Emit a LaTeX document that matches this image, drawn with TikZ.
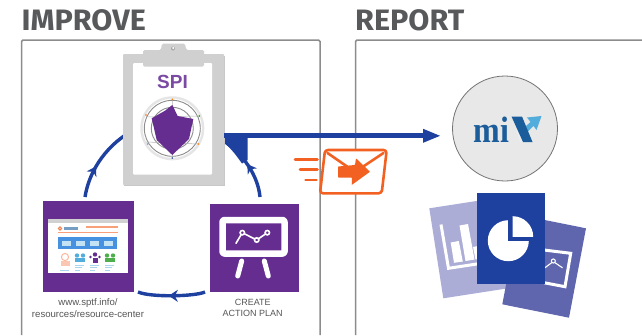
\documentclass[tikz,border=0pt]{standalone}
\usepackage{fontspec}
\setmainfont{Liberation Sans}
\newfontfamily\headfont{Fira Sans}
\newfontfamily\logofont{Liberation Serif}
\usetikzlibrary{arrows.meta,decorations.markings,calc}
\definecolor{panelgray}{HTML}{8C8C8C}
\definecolor{headgray}{HTML}{58595B}
\definecolor{clipgray}{HTML}{D0D0D0}
\definecolor{flowblue}{HTML}{1E409F}
\definecolor{purp}{HTML}{662D91}
\definecolor{spipurp}{HTML}{7B4AA3}
\definecolor{orng}{HTML}{F26122}
\definecolor{paleviolet}{HTML}{ABADD6}
\definecolor{midviolet}{HTML}{5F66AE}
\definecolor{logoblue}{HTML}{1B5C9A}
\definecolor{logolight}{HTML}{52ACDC}
\definecolor{txtgray}{HTML}{555555}
\tikzset{
  panelline/.style={draw=panelgray,line width=1.5pt,rounded corners=1.5pt},
  heading/.style={font=\headfont\bfseries\fontsize{29.5}{29.5}\selectfont,text=headgray,inner sep=0pt,anchor=west},
  caption/.style={text=txtgray,align=center,inner sep=0pt},
  square/.style={fill=purp,inner sep=0pt,anchor=north west},
  cyclearc/.style={draw=flowblue,line width=3.4pt,postaction={decorate}},
  whiteline/.style={draw=white,line cap=round,line join=round},
  orangeline/.style={draw=orng,line width=2.6pt,line cap=round,line join=round},
}
\begin{document}
\begin{tikzpicture}[x=1pt,y=-1pt]
\useasboundingbox (0,0) rectangle (642,335);
% headings
\node[heading] (improve) at (21.5,20) {\scalebox{1.035}[1]{IMPROVE}};
\node[heading] (report) at (355,20) {\scalebox{1.035}[1]{REPORT}};
% panels
\draw[panelline] (21.5,335) -- (21.5,40) -- (320,40) -- (320,335);
\draw[panelline] (355.5,335) -- (355.5,40) -- (643,40);
% squares
\node[square,minimum width=91.3pt,minimum height=90.7pt] (site) at (42.7,201) {};
\node[square,minimum width=89pt,minimum height=88.4pt] (plan) at (209.7,203.3) {};
% cycle arcs
\coordinate (la) at (85,197);
\coordinate (lb) at (124,136);
\coordinate (ra) at (260,197);
\coordinate (rb) at (224,141);
\coordinate (ba) at (205,292);
\coordinate (bb) at (138,292);
\draw[cyclearc,decoration={markings,mark=at position 0.44 with {\arrow{Stealth[length=9pt,width=11pt]}}}]
  (la) .. controls (89,172) and (104,150) .. (lb);
\draw[cyclearc,decoration={markings,mark=at position 0.52 with {\arrow{Stealth[length=9pt,width=11pt]}}}]
  (ra) .. controls (258,176) and (244,155) .. (rb);
\draw[cyclearc,decoration={markings,mark=at position 0.54 with {\arrow{Stealth[length=9pt,width=12pt]}}}]
  (ba) .. controls (195,296.5) and (151,297.5) .. (bb);
% wedge under main arrow
\fill[flowblue] (223,134) -- (247.5,134) -- (247.5,160) -- (242,163.5) .. controls (236,155) and (230,147) .. (223,142) -- cycle;
% clipboard
\fill[black!22] (124,55.5) rectangle (224.8,185.6);
\node[fill=clipgray,inner sep=0pt,minimum width=101pt,minimum height=131pt,rounded corners=1pt] (clip) at (173.5,119.5) {};
\fill[white,rounded corners=1pt] (133,63) rectangle (212,174.5);
\fill[clipgray,rounded corners=1.5pt] (143,66.5) -- (143,50) -- (161,50) -- (161,49) -- (162,43.5) -- (185,43.5) -- (186,49) -- (186,50) -- (204,50) -- (204,66.5) -- cycle;
\fill[gray!70] (173,48.5) circle (2pt);
\fill[white] (173.3,48) circle (1.1pt);
\node[font=\bfseries\fontsize{19}{19}\selectfont,text=spipurp,inner sep=0pt] (spi) at (172.5,81.5) {SPI};
% radar
\fill[black!10] (172.3,128.3) circle (32pt);
\fill[white] (172.3,128.3) circle (29.5pt);
\draw[black!45,line width=.9pt] (172.3,128.3) circle (28pt);
\draw[black!45,line width=.9pt] (172.3,128.3) circle (21pt);
\draw[black!30,line width=.5pt] (172.3,99) -- (172.3,157) (146,117) -- (198.5,116) (146,142) -- (198.5,144);
\fill[purp] (172.3,105) -- (177.7,116) -- (193.3,119) -- (189,139) -- (172.3,155) -- (156.7,140) -- (151.7,118.3) -- (165,110.7) -- cycle;
\fill[orange] (172.3,99.3) circle (.9pt);
\fill[green!60!black] (199.3,116) circle (.9pt);
\fill[orange] (198.3,144) circle (.9pt);
\fill[flowblue] (172.3,158) circle (.9pt);
\fill[blue!50] (147.7,144) circle (.9pt);
\fill[orange!80!red] (146,115) circle (.9pt);
% main arrow
\coordinate (mainstart) at (224,135.8);
\coordinate (mainend) at (441,135.8);
% envelope
\draw[orangeline] (295,159.5) -- (317.5,159.5) (300,169.5) -- (317.5,169.5) (305.5,180) -- (316.5,180);
\draw[orangeline,fill=white,rounded corners=3pt] (325,150) -- (386.7,150) -- (381.7,193.3) -- (320,193.3) -- cycle;
\draw[orangeline] (327.5,153) -- (355,172) -- (383.5,153);
\fill[orng,rounded corners=.6pt] (338,166.5) -- (355,165) -- (356,158.3) -- (370,171.7) -- (351.7,185) -- (352,177.5) -- (338,177.5) -- cycle;
\draw[flowblue,line width=5pt,-{Triangle[length=18pt,width=12.5pt]}] (mainstart) -- (mainend);
% miX circle
\node[circle,draw=black!55,fill=black!9,line width=.8pt,minimum size=105pt,inner sep=0pt] (mix) at (505,128.5) {};
\node[font=\logofont\bfseries\fontsize{32}{32}\selectfont,text=logoblue,inner sep=0pt,anchor=base west] (mi) at (473.5,142) {\scalebox{1}[1.15]{mi}};
\fill[logolight!35!black!9] (516,130) -- (528,125) -- (532,142) -- (520,142) -- cycle;
\fill[logolight] (527,117.5) -- (541.5,116) -- (536.5,130) -- (533.5,126) -- (523,136) -- (520,131.5) -- (530.5,122) -- cycle;
\fill[logoblue] (511.5,116.5) -- (522,116.5) -- (532.5,142) -- (523,142) -- cycle;
% left sheet
\fill[paleviolet] (429.3,208.3) -- (496.5,197.9) -- (510.5,287.9) -- (443.3,298.3) -- cycle;
\draw[whiteline,line width=3pt,line cap=butt,line join=miter] (441,224.5) -- (448.5,268.3) -- (478,263.8);
\fill[white] (450.7,242.5) -- (458.8,241) -- (462.8,261.5) -- (454,262.8) -- cycle;
\fill[white] (459.5,225.5) -- (468,224) -- (474.5,259.5) -- (465.5,261) -- cycle;
\fill[white] (473,247) -- (478,246) -- (478,259) -- (475.5,259.5) -- cycle;
% right sheet
\fill[midviolet] (519.3,214.9) -- (586,228.3) -- (569,317.7) -- (502.3,304.3) -- cycle;
\draw[whiteline,line width=3pt,line cap=butt,line join=miter] (544,250) -- (570.7,253.3) -- (565,286.7) -- (544,282.7);
\draw[whiteline,line width=1.1pt] (545,267.7) -- (553.3,261.5) -- (562.3,267.7);
\draw[whiteline,line width=1.1pt,fill=midviolet] (553.3,261) circle (2pt);
% centre sheet
\node[fill=flowblue,inner sep=0pt,minimum width=67.6pt,minimum height=91.7pt,anchor=north west] (doc) at (476.7,192.3) {};
\fill[white] (508.3,240.7) circle (20.5pt);
\fill[flowblue] (508.3,240.7) rectangle (531,218);
\begin{scope}
  \clip (512.7,236.7) rectangle (535,214);
  \fill[white] (512.7,236.7) circle (20.5pt);
\end{scope}
% site screenshot
\fill[white] (48,219) rectangle (128,273);
\fill[black!18] (48,219) rectangle (128,222.5);
\fill[orng!60] (58,232) rectangle (118,233.2);
\draw[orng!80,line width=1pt] (60,228.5) circle (1.7pt);
\fill[logoblue!60] (64,226.8) rectangle (78,229.8);
\fill[orng!60] (86,226) rectangle (118,228.2);
\fill[logolight!85!blue] (58,237) rectangle (117,249);
\foreach \tx in {62,76,90,104}{\fill[white!65!logolight] (\tx,241) rectangle ++(9,5);}
\draw[orng!45,line width=1pt] (65,257) circle (3.6pt);
\fill[orng!35] (61,260.5) rectangle (69.5,266);
\fill[logolight] (77,255.5) circle (2.2pt);
\fill[logolight] (83,255.5) circle (2.2pt);
\fill[logolight] (75,258) rectangle (85,262);
\fill[purp] (95,254.5) circle (2.2pt);
\fill[purp] (90.5,257) circle (1.4pt);
\fill[purp] (99.5,257) circle (1.4pt);
\fill[purp] (92.5,258) rectangle (97.5,263);
\fill[green!55!black!70] (107,255.5) circle (2.2pt);
\fill[green!55!black!70] (113,255.5) circle (2.2pt);
\fill[green!55!black!70] (105,258) rectangle (115,262);
\foreach \tx in {75,90,105}{\draw[logolight!50,line width=.5pt] (\tx,265) -- ++(9,0) (\tx,267.5) -- ++(7,0) (\tx,270) -- ++(5,0);}
\draw[logolight!50,line width=.5pt] (60,270) -- ++(9,0);
% plan icon
\draw[whiteline,line width=6.5pt,rounded corners=2pt] (222.5,220) rectangle (284.5,253.5);
\draw[whiteline,line width=5pt] (241.7,261) -- (237.7,276);
\draw[whiteline,line width=5pt] (264.3,261) -- (268.3,276);
\draw[whiteline,line width=1.6pt] (236,243.3) -- (242.3,232.7) -- (256.7,240) -- (267.3,232.7);
\foreach \cx/\cy in {242.3/232.7,256.7/240,267.3/232.7}{\draw[white,line width=1.6pt,fill=purp] (\cx,\cy) circle (2.2pt);}
% captions
\node[caption,font=\fontsize{9.6}{12}\selectfont] (sitecap) at (88,308) {www.sptf.info/\\resources/resource-center};
\node[caption,font=\fontsize{9}{11}\selectfont] (plancap) at (252.7,308) {CREATE\\ACTION PLAN};
\end{tikzpicture}
\end{document}
